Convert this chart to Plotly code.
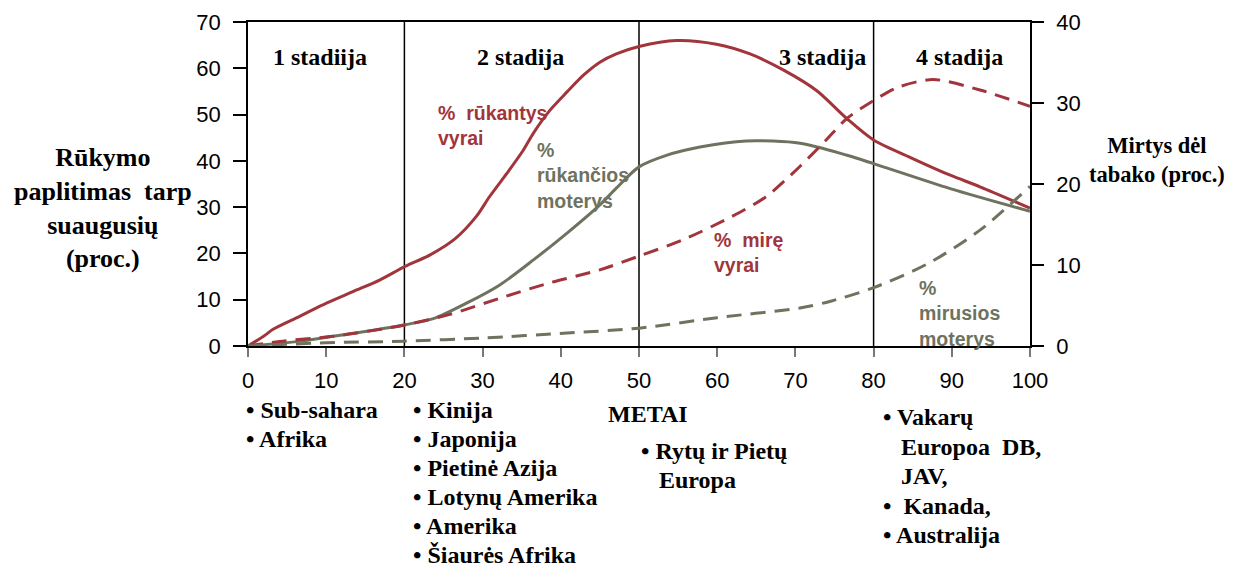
import plotly.graph_objects as go

# ---- data ----
years_men_smoke = [0, 2.0, 3.2, 6.6, 10.1, 13.5, 16.9, 20.1, 23.3, 26.5, 29.2, 30.9, 33.1, 35.2, 36.5, 38.6, 40.8,
                   42.9, 45.0, 47.1, 50.0, 54.8, 59.9, 64.2, 68.5, 72.7, 76.6, 80.0, 85.0, 89.8, 93.6, 100]
men_smoke = [0, 2.1, 3.6, 6.4, 9.3, 11.8, 14.3, 17.2, 19.7, 23.2, 28.0, 32.3, 37.3, 42.3, 46.0, 50.9, 54.9,
             58.5, 61.3, 63.1, 64.7, 66.0, 65.2, 63.1, 59.6, 55.2, 49.1, 44.5, 40.5, 36.9, 34.4, 29.8]

years_women_smoke = [0, 6.6, 10.9, 15.2, 20.1, 23.7, 28.0, 32.2, 36.5, 40.8, 45.0, 47.1, 50.0, 53.5, 57.8,
                     63.7, 70.6, 76.6, 80, 89.8, 100]
women_smoke = [0, 1.0, 2.1, 3.2, 4.6, 5.9, 9.3, 13.2, 18.6, 24.4, 30.5, 34.1, 38.7, 41.2, 43.0,
               44.3, 43.8, 41.2, 39.4, 34, 29.1]

years_men_death = [0, 4.4, 10.9, 15.2, 20.1, 25.8, 32.2, 38.6, 45.0, 50, 55.6, 61.9, 66.2, 70.5, 73.9,
                   76.6, 80.0, 83.0, 87.6, 93.6, 100]
men_death = [0, 0.6, 1.2, 1.8, 2.6, 3.9, 5.9, 7.8, 9.4, 11.1, 13.1, 16.0, 18.4, 22.1, 25.4,
             28.1, 30.3, 31.9, 32.9, 31.6, 29.6]

years_women_death = [0, 10, 20, 30.2, 40.8, 50, 60, 70.6, 74.4, 80, 87, 93.6, 100]
women_death = [0, 0.4, 0.6, 1.0, 1.6, 2.2, 3.5, 4.7, 5.5, 7.2, 10.2, 14.3, 19.7]

stage_labels = ["1 stadiija", "2 stadija", "3 stadija", "4 stadija"]
stage_centers = [9.2, 34.9, 73.5, 91]
stage_bounds = [20, 50, 80]

x_ticks = [0, 10, 20, 30, 40, 50, 60, 70, 80, 90, 100]
left_ticks = [0, 10, 20, 30, 40, 50, 60, 70]
right_ticks = [0, 10, 20, 30, 40]

region_groups = [
    ["• Sub-sahara", "• Afrika"],
    ["• Kinija", "• Japonija", "• Pietinė Azija", "• Lotynų Amerika", "• Amerika", "• Šiaurės Afrika"],
    ["• Rytų ir Pietų", "\u00a0\u00a0\u00a0Europa"],
    ["• Vakarų", "\u00a0\u00a0\u00a0Europoa\u00a0 DB,", "\u00a0\u00a0\u00a0JAV,", "•\u00a0 Kanada,", "• Australija"],
]

RED = "#A1353B"
GREEN = "#6E725E"

# plot area in screen pixels (page has an 8px body margin)
PX0, PX1, PY0, PY1 = 248, 1030, 22, 346.5
OFF = 8


def paper_x(px):
    return (px - PX0) / (PX1 - PX0)


def paper_y(py):
    return (PY1 - py) / (PY1 - PY0)


fig = go.Figure()
fig.add_trace(go.Scatter(x=years_men_smoke, y=men_smoke, mode="lines",
                         line=dict(color=RED, width=3, shape="spline", smoothing=0.8)))
fig.add_trace(go.Scatter(x=years_women_smoke, y=women_smoke, mode="lines",
                         line=dict(color=GREEN, width=3, shape="spline", smoothing=0.8)))
fig.add_trace(go.Scatter(x=years_men_death, y=men_death, mode="lines", yaxis="y2",
                         line=dict(color=RED, width=3, shape="spline", smoothing=0.8, dash="15px,9px")))
fig.add_trace(go.Scatter(x=years_women_death, y=women_death, mode="lines", yaxis="y2",
                         line=dict(color=GREEN, width=3, shape="spline", smoothing=0.8, dash="15px,9px")))

for b in stage_bounds:
    fig.add_shape(type="line", xref="x", yref="paper", x0=b, x1=b, y0=0, y1=1,
                  line=dict(color="black", width=1.5), layer="below")

serif_b = "Liberation Serif"
sans = "Liberation Sans"

annotations = []
for lab, cx in zip(stage_labels, stage_centers):
    annotations.append(dict(x=cx, y=62.4, xref="x", yref="y", text="<b>%s</b>" % lab,
                            showarrow=False, xanchor="center", yanchor="middle",
                            font=dict(family=serif_b, size=24, color="black")))

line_labels = [
    ("%\u00a0 rūkantys<br>vyrai", 24.0, 47.6, RED),
    ("%<br>rūkančios<br>moterys", 36.7, 36.9, GREEN),
    ("%\u00a0 mirę<br>vyrai", 59.3, 20.2, RED),
    ("%<br>mirusios<br>moterys", 85.5, 7.0, GREEN),
]
for t, x, y, c in line_labels:
    annotations.append(dict(x=x, y=y, xref="x", yref="y", text="<b>%s</b>" % t, showarrow=False,
                            xanchor="left", yanchor="middle", align="left",
                            font=dict(family=sans, size=19.5, color=c)))

# axis titles
annotations.append(dict(xref="paper", yref="paper", x=paper_x(103), y=paper_y(208),
                        text="<b>Rūkymo<br>paplitimas\u00a0 tarp<br>suaugusių<br>(proc.)</b>",
                        showarrow=False, align="center", xanchor="center", yanchor="middle",
                        font=dict(family=serif_b, size=26, color="black")))
annotations.append(dict(xref="paper", yref="paper", x=paper_x(1157), y=paper_y(160),
                        text="<b>Mirtys dėl<br>tabako (proc.)</b>",
                        showarrow=False, align="center", xanchor="center", yanchor="middle",
                        font=dict(family=serif_b, size=22.5, color="black")))
annotations.append(dict(xref="paper", yref="paper", x=paper_x(606), y=paper_y(415),
                        text="<b>METAI</b>", showarrow=False, xanchor="left", yanchor="middle",
                        font=dict(family=serif_b, size=24, color="black")))

group_x = [244, 411, 639, 881]
group_y0 = [411, 411, 452, 418]
group_step = [29, 29, 28.5, 29.5]
for lines, gx, gy, st in zip(region_groups, group_x, group_y0, group_step):
    for i, ln in enumerate(lines):
        py = gy + i * st
        annotations.append(dict(xref="paper", yref="paper", x=paper_x(gx), y=paper_y(py),
                                text="<b>%s</b>" % ln, showarrow=False, xanchor="left", yanchor="middle",
                                font=dict(family=serif_b, size=24, color="black")))

fig.update_layout(
    width=1235 - OFF, height=565 - OFF,
    margin=dict(l=PX0 - OFF, r=1235 - PX1, t=PY0 - OFF, b=565 - PY1),
    plot_bgcolor="white", paper_bgcolor="white",
    showlegend=False,
    annotations=annotations,
    xaxis=dict(range=[0, 100], tickvals=x_ticks, showgrid=False, zeroline=False, automargin=False,
               showline=True, linecolor="black", linewidth=1.5, mirror=True,
               ticks="outside", ticklen=9, tickcolor="#777", tickwidth=1.5,
               tickfont=dict(family=sans, size=22, color="black"), ticklabelstandoff=5),
    yaxis=dict(range=[0, 70], tickvals=left_ticks, showgrid=False, zeroline=False, automargin=False,
               showline=True, linecolor="black", linewidth=1.5,
               ticks="outside", ticklen=13, tickcolor="black", tickwidth=1.5,
               tickfont=dict(family=sans, size=22, color="black"), ticklabelstandoff=8),
    yaxis2=dict(range=[0, 40], tickvals=right_ticks, overlaying="y", side="right", automargin=False,
                showgrid=False, zeroline=False,
                showline=True, linecolor="black", linewidth=1.5,
                ticks="outside", ticklen=12, tickcolor="black", tickwidth=1.5,
                tickfont=dict(family=sans, size=22, color="black"), ticklabelstandoff=8),
)

fig.write_html("out.html", post_script="document.body.style.overflow='hidden';")
